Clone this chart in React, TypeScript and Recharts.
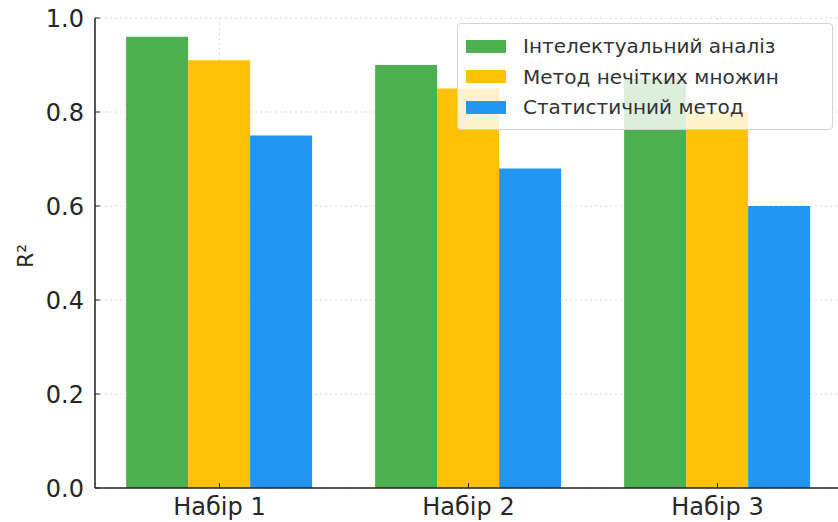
import { BarChart, Bar, XAxis, YAxis, CartesianGrid, Legend } from "recharts";

// Coefficient of determination per data set, three forecasting methods
const datasets = ["Набір 1", "Набір 2", "Набір 3"];
const intelligentAnalysis = [0.96, 0.9, 0.87];
const fuzzySets = [0.91, 0.85, 0.8];
const statisticalMethod = [0.75, 0.68, 0.6];
const yTicks = [0, 0.2, 0.4, 0.6, 0.8, 1.0];

const series = [
  { key: "intel", name: "Інтелектуальний аналіз", color: "#4CAF50" },
  { key: "fuzzy", name: "Метод нечітких множин", color: "#FFC107" },
  { key: "stat", name: "Статистичний метод", color: "#2196F3" },
];

const data = datasets.map((name, i) => ({
  name,
  intel: intelligentAnalysis[i],
  fuzzy: fuzzySets[i],
  stat: statisticalMethod[i],
}));

const FONT = "DejaVu Sans, sans-serif";
const TEXT = "#262626";
const AXIS = "#222";

const XTick = (props: any) => {
  const { x, y, payload } = props;
  return (
    <g>
      <line x1={x} x2={x} y1={y} y2={y - 5} stroke={AXIS} strokeWidth={1} />
      <text x={x} y={y + 27} textAnchor="middle" fontSize={24} fill={TEXT} fontFamily={FONT}>
        {payload.value}
      </text>
    </g>
  );
};

const YTick = (props: any) => {
  const { x, y, payload } = props;
  return (
    <g>
      <line x1={x} x2={x + 5} y1={y} y2={y} stroke={AXIS} strokeWidth={1} />
      <text x={x - 11} y={y} dy="0.36em" textAnchor="end" fontSize={24} fill={TEXT} fontFamily={FONT}>
        {Number(payload.value).toFixed(1)}
      </text>
    </g>
  );
};

const YLabel = (props: any) => {
  const { viewBox } = props;
  const cx = viewBox.x + 33;
  const cy = viewBox.y + viewBox.height / 2 + 3;
  return (
    <text
      x={cx}
      y={cy}
      textAnchor="middle"
      fontSize={22}
      fill={TEXT}
      fontFamily={FONT}
      transform={`rotate(-90 ${cx} ${cy})`}
    >
      R²
    </text>
  );
};

const LegendBox = () => (
  <div
    style={{
      width: 376,
      boxSizing: "border-box",
      padding: "7px 0 6px 8px",
      border: "1px solid #d4d4d4",
      borderRadius: 4,
      background: "rgba(255,255,255,0.8)",
      fontFamily: FONT,
      fontSize: 20,
      color: "#333",
    }}
  >
    {series.map((s) => (
      <div key={s.key} style={{ display: "flex", alignItems: "center", height: 30.5 }}>
        <span style={{ display: "inline-block", width: 40, height: 13, background: s.color, marginRight: 17 }} />
        <span style={{ whiteSpace: "nowrap" }}>{s.name}</span>
      </div>
    ))}
  </div>
);

export default function App() {
  return (
    <div
      style={{
        position: "fixed",
        top: 0,
        left: 0,
        width: 838,
        height: 522,
        overflow: "hidden",
        background: "#fff",
      }}
    >
      <BarChart
        width={860}
        height={522}
        data={data}
        margin={{ top: 18, right: 13, bottom: 0, left: 0 }}
        barGap={0}
        barCategoryGap="12.5%"
      >
        <XAxis
          dataKey="name"
          height={34}
          tickSize={0}
          tickMargin={0}
          tick={<XTick />}
          padding={{ left: 0, right: 5 }}
          axisLine={{ stroke: AXIS, strokeWidth: 1.5 }}
          interval={0}
        />
        <YAxis
          width={95}
          domain={[0, 1]}
          ticks={yTicks}
          tickSize={0}
          tickMargin={0}
          tick={<YTick />}
          axisLine={{ stroke: AXIS, strokeWidth: 1.5 }}
          label={<YLabel />}
        />
        {series.map((s) => (
          <Bar key={s.key} dataKey={s.key} name={s.name} fill={s.color} isAnimationActive={false} />
        ))}
        <CartesianGrid stroke="#c8c8c8" strokeOpacity={0.7} strokeDasharray="2 3" />
        <Legend
          layout="vertical"
          align="center"
          verticalAlign="middle"
          content={<LegendBox />}
          wrapperStyle={{ position: "absolute", top: 23, left: 457, width: 376 }}
        />
      </BarChart>
    </div>
  );
}
